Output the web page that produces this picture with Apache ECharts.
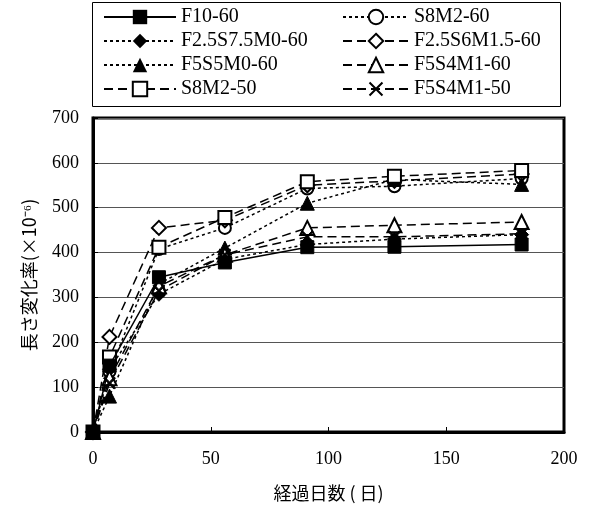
<!DOCTYPE html>
<html>
<head>
<meta charset="utf-8">
<script src="https://cdn.jsdelivr.net/npm/echarts@6/dist/echarts.min.js"></script>
<style>
  html, body { margin: 0; padding: 0; background: #fff; }
  #chart { width: 589px; height: 508px; }
</style>
</head>
<body>
<div id="chart"></div>
<script>
// 経過日数
var days = [0, 7, 28, 56, 91, 128, 182];

// 長さ変化率 (×10^-6)
var f10_60 = [0, 148, 345, 378, 412, 413, 418];
var s8m2_60 = [0, 135, 408, 455, 543, 548, 565];
var f25s75m0_60 = [0, 140, 307, 385, 418, 430, 440];
var f25s6m15_60 = [0, 212, 455, 472, 550, 560, 575];
var f5s5m0_60 = [0, 80, 330, 410, 510, 563, 552];
var f5s4m1_60 = [0, 120, 325, 395, 455, 461, 468];
var s8m2_50 = [0, 167, 412, 478, 558, 570, 583];
var f5s4m1_50 = [0, 109, 315, 395, 435, 435, 442];

var yTicks = [0, 100, 200, 300, 400, 500, 600, 700];
var xTicks = [0, 50, 100, 150, 200];

var crossPath = 'path://M0,1L1,0L5,4L9,0L10,1L6,5L10,9L9,10L5,6L1,10L0,9L4,5Z';

function pairs(vals) {
  return days.map(function (d, i) { return [d, vals[i]]; });
}

function mk(name, vals, symbol, size, dash, z) {
  return {
    name: name,
    type: 'line',
    data: pairs(vals),
    symbol: symbol,
    symbolSize: size,
    color: '#000',
    lineStyle: { color: '#000', width: 1.5, type: dash },
    itemStyle: { color: '#000', borderColor: '#000' },
    clip: false,
    z: z || 2,
    animation: false
  };
}

var dotted = [3, 3];
var dashed = [9, 5];

var series = [
  mk('F10-60', f10_60, 'rect', 13, 'solid', 3),
  mk('S8M2-60', s8m2_60, 'emptyCircle', 12, dotted),
  mk('F2.5S7.5M0-60', f25s75m0_60, 'diamond', 14, dotted),
  mk('F2.5S6M1.5-60', f25s6m15_60, 'emptyDiamond', 14, dashed),
  mk('F5S5M0-60', f5s5m0_60, 'triangle', 14, dotted),
  mk('F5S4M1-60', f5s4m1_60, 'emptyTriangle', 14, dashed),
  mk('S8M2-50', s8m2_50, 'emptyRect', 13, dashed),
  mk('F5S4M1-50', f5s4m1_50, crossPath, 12, dashed)
];

var legendText = { fontFamily: 'Liberation Serif', fontSize: 20, color: '#000', lineHeight: 20 };

var chart = echarts.init(document.getElementById('chart'), null, { renderer: 'canvas' });
chart.setOption({
  backgroundColor: '#fff',
  animation: false,
  graphic: [{
    type: 'rect',
    shape: { x: 92.5, y: 2.5, width: 468, height: 104 },
    style: { fill: 'none', stroke: '#000', lineWidth: 1 }
  }],
  legend: [{
    orient: 'vertical',
    left: 103, top: 7,
    padding: 0,
    itemGap: 4,
    itemWidth: 72, itemHeight: 18,
    textStyle: legendText,
    data: ['F10-60', 'F2.5S7.5M0-60', 'F5S5M0-60', 'S8M2-50']
  }, {
    orient: 'vertical',
    left: 342, top: 7,
    padding: 0,
    itemGap: 4,
    itemWidth: 66, itemHeight: 18,
    textStyle: legendText,
    data: ['S8M2-60', 'F2.5S6M1.5-60', 'F5S4M1-60', 'F5S4M1-50']
  }],
  grid: {
    left: 93, right: 25, top: 118, bottom: 76,
    show: true, borderColor: '#000', borderWidth: 3
  },
  xAxis: {
    type: 'value',
    min: xTicks[0], max: xTicks[xTicks.length - 1], interval: 50,
    name: '経過日数 ( 日)',
    nameLocation: 'middle',
    nameGap: 52,
    nameTextStyle: { fontFamily: 'Noto Sans CJK JP', fontSize: 18, color: '#000' },
    axisLine: { lineStyle: { color: '#000', width: 3 } },
    axisTick: { inside: true, length: 5, lineStyle: { color: '#000' } },
    axisLabel: { fontFamily: 'Liberation Serif', fontSize: 18, color: '#000', margin: 18 },
    splitLine: { show: false }
  },
  yAxis: {
    type: 'value',
    min: yTicks[0], max: yTicks[yTicks.length - 1], interval: 100,
    name: '長さ変化率(×10⁻⁶)',
    nameLocation: 'middle',
    nameGap: 55,
    nameTextStyle: { fontFamily: 'Noto Sans CJK JP', fontSize: 18, color: '#000' },
    axisLine: { lineStyle: { color: '#000', width: 3 } },
    axisTick: { inside: true, length: 5, lineStyle: { color: '#000' } },
    axisLabel: { fontFamily: 'Liberation Serif', fontSize: 18, color: '#000', margin: 14 },
    splitLine: { show: true, lineStyle: { color: '#555', width: 1 } }
  },
  series: series
});
</script>
</body>
</html>
